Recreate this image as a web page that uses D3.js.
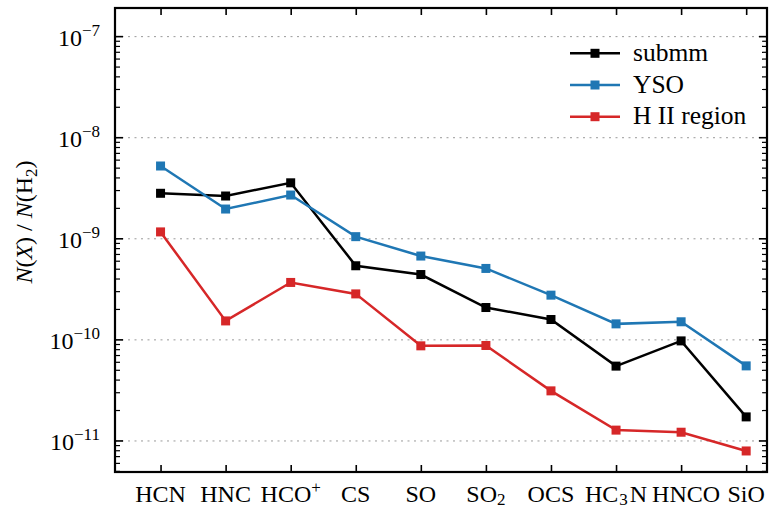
<!DOCTYPE html>
<html>
<head>
<meta charset="utf-8">
<script src="https://cdn.jsdelivr.net/npm/d3@7"></script>
<style>
  body { margin: 0; background: #fff; }
</style>
</head>
<body>
<div id="chart"></div>
<script>
// molecules along the x axis
const molecules = ["HCN", "HNC", "HCO+", "CS", "SO", "SO2", "OCS", "HC3N", "HNCO", "SiO"];

// abundances N(X)/N(H2)
const submm = [2.82e-9, 2.65e-9, 3.58e-9, 5.41e-10, 4.43e-10, 2.09e-10, 1.59e-10, 5.50e-11, 9.77e-11, 1.73e-11];
const yso   = [5.25e-9, 1.97e-9, 2.71e-9, 1.05e-9, 6.75e-10, 5.09e-10, 2.77e-10, 1.44e-10, 1.51e-10, 5.53e-11];
const hii   = [1.17e-9, 1.54e-10, 3.70e-10, 2.85e-10, 8.73e-11, 8.80e-11, 3.13e-11, 1.28e-11, 1.22e-11, 7.96e-12];

const seriesNames = ["submm", "YSO", "H II region"];
const seriesColors = ["#000000", "#1f77b4", "#d62728"];
const yMajorTicks = [1e-11, 1e-10, 1e-9, 1e-8, 1e-7];

const FONT = "'Liberation Serif', 'Times New Roman', Times, 'DejaVu Serif', serif";

const width = 775, height = 510;
const margin = { top: 8, right: 8, bottom: 38, left: 115 };
const plotW = width - margin.left - margin.right;
const plotH = height - margin.top - margin.bottom;

const svg = d3.select("#chart").append("svg")
    .attr("width", width)
    .attr("height", height)
    .style("font-family", FONT);

const g = svg.append("g")
    .attr("transform", `translate(${margin.left},${margin.top})`);

const x = d3.scaleLinear()
    .domain([-0.7, 9.32])
    .range([0, plotW]);

const y = d3.scaleLog()
    .domain([4.93e-12, 1.92e-7])
    .range([plotH, 0]);

// dotted grid at the decades
g.append("g")
    .selectAll("line")
    .data(yMajorTicks)
    .enter().append("line")
    .attr("x1", 0)
    .attr("x2", plotW)
    .attr("y1", d => y(d))
    .attr("y2", d => y(d))
    .attr("stroke", "#9a9a9a")
    .attr("stroke-width", 1)
    .attr("stroke-dasharray", "2,4.5");

// minor ticks 2..9 of each decade
const minorTicks = [];
for (let e = -12; e <= -7; e++) {
    for (let m = 2; m <= 9; m++) {
        const v = m * Math.pow(10, e);
        if (v > y.domain()[0] && v < y.domain()[1]) minorTicks.push(v);
    }
}

// helper: split label into normal / sub / sup parts
function labelParts(s) {
    const parts = [];
    for (const ch of s) {
        let kind = "n";
        if (/[0-9]/.test(ch)) kind = "sub";
        if (ch === "+") kind = "sup";
        const last = parts[parts.length - 1];
        if (last && last.kind === kind) last.text += ch;
        else parts.push({ text: ch, kind: kind });
    }
    return parts;
}

function writeParts(textSel, parts, big, small) {
    let shift = 0;
    parts.forEach((p, i) => {
        let target = 0;
        if (p.kind === "sub") target = 3;
        if (p.kind === "sup") target = -9;
        const ts = textSel.append("tspan")
            .attr("dy", target - shift)
            .style("font-size", (p.kind === "n" ? big : small) + "px")
            .text(p.text);
        // a little room around subscripts, like mathtext
        if (p.kind === "sub" && i < parts.length - 1) ts.attr("dx", 1);
        if (i > 0 && parts[i - 1].kind === "sub") ts.attr("dx", 2);
        shift = target;
    });
}

// x axis: ticks inward on bottom and top
const xAxis = d3.axisBottom(x)
    .tickValues(d3.range(molecules.length))
    .tickSizeInner(-7)
    .tickSizeOuter(0)
    .tickFormat("");

const xAxisGroup = g.append("g")
    .attr("transform", `translate(0,${plotH})`)
    .call(xAxis);
xAxisGroup.select(".domain").remove();
xAxisGroup.selectAll(".tick line").attr("stroke-width", 1.6);

const xTop = g.append("g")
    .call(d3.axisTop(x).tickValues(d3.range(molecules.length)).tickSizeInner(-7).tickSizeOuter(0).tickFormat(""));
xTop.select(".domain").remove();
xTop.selectAll(".tick line").attr("stroke-width", 1.6);

g.append("g")
    .selectAll("text")
    .data(molecules)
    .enter().append("text")
    .attr("x", (d, i) => x(i) + (d === "HNCO" ? 5 : 0))
    .attr("y", plotH + 30)
    .attr("text-anchor", "middle")
    .each(function(d) {
        writeParts(d3.select(this), labelParts(d), 24, 17);
    });

// y axis ticks, left and right, inward
function yTicks(sel, side) {
    const dir = side === "left" ? 1 : -1;
    const x0 = side === "left" ? 0 : plotW;
    sel.selectAll("line.major")
        .data(yMajorTicks)
        .enter().append("line")
        .attr("class", "major")
        .attr("x1", x0).attr("x2", x0 + dir * 8)
        .attr("y1", d => y(d)).attr("y2", d => y(d))
        .attr("stroke", "#000").attr("stroke-width", 1.6);
    sel.selectAll("line.minor")
        .data(minorTicks)
        .enter().append("line")
        .attr("class", "minor")
        .attr("x1", x0).attr("x2", x0 + dir * 5)
        .attr("y1", d => y(d)).attr("y2", d => y(d))
        .attr("stroke", "#000").attr("stroke-width", 1.2);
}
yTicks(g.append("g"), "left");
yTicks(g.append("g"), "right");

g.append("g")
    .selectAll("text")
    .data(yMajorTicks)
    .enter().append("text")
    .attr("x", -15)
    .attr("y", d => y(d) + 9)
    .attr("text-anchor", "end")
    .each(function(d) {
        const t = d3.select(this);
        t.append("tspan").style("font-size", "24px").text("10");
        t.append("tspan").attr("dy", -10).style("font-size", "17px")
            .text("\u2212" + Math.round(-Math.log10(d)));
    });

// y label
const yLabel = svg.append("text")
    .attr("transform", `translate(32,${margin.top + 214}) rotate(-90)`)
    .attr("text-anchor", "middle")
    .style("font-size", "24px");
yLabel.append("tspan").style("font-style", "italic").text("N");
yLabel.append("tspan").text("(");
yLabel.append("tspan").style("font-style", "italic").text("X");
yLabel.append("tspan").text(") / ");
yLabel.append("tspan").style("font-style", "italic").text("N");
yLabel.append("tspan").text("(H");
yLabel.append("tspan").attr("dy", 5).style("font-size", "17px").text("2");
yLabel.append("tspan").attr("dy", -5).text(")");

// lines + square markers
const allSeries = [submm, yso, hii];
const line = d3.line()
    .x((d, i) => x(i))
    .y(d => y(d));

allSeries.forEach((vals, s) => {
    g.append("path")
        .datum(vals)
        .attr("fill", "none")
        .attr("stroke", seriesColors[s])
        .attr("stroke-width", 2.5)
        .attr("d", line);
    g.append("g")
        .selectAll("rect")
        .data(vals)
        .enter().append("rect")
        .attr("x", (d, i) => x(i) - 4.5)
        .attr("y", d => y(d) - 4.5)
        .attr("width", 9)
        .attr("height", 9)
        .attr("fill", seriesColors[s]);
});

// spines
g.append("rect")
    .attr("width", plotW)
    .attr("height", plotH)
    .attr("fill", "none")
    .attr("stroke", "#000")
    .attr("stroke-width", 2.2);

// legend
const legend = svg.append("g")
    .selectAll("g")
    .data(seriesNames)
    .enter().append("g")
    .attr("transform", (d, i) => `translate(570,${53.3 + i * 31.7})`);

legend.append("line")
    .attr("x1", 0).attr("x2", 50)
    .attr("stroke", (d, i) => seriesColors[i])
    .attr("stroke-width", 2.5);
legend.append("rect")
    .attr("x", 20.5).attr("y", -4.5)
    .attr("width", 9).attr("height", 9)
    .attr("fill", (d, i) => seriesColors[i]);
legend.append("text")
    .attr("x", 63)
    .attr("y", 7.5)
    .style("font-size", "25.5px")
    .text(d => d);
</script>
</body>
</html>
